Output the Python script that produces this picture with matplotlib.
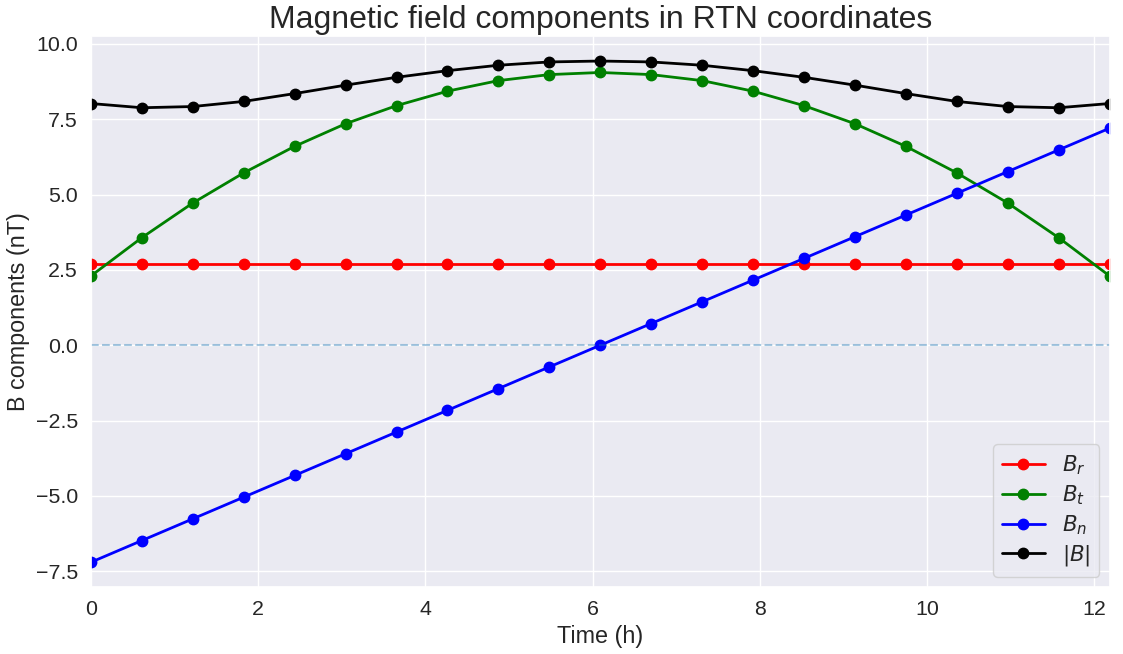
import matplotlib
matplotlib.use("Agg")
import matplotlib.pyplot as plt
import seaborn as sns

sns.set_theme(style="darkgrid", font_scale=1.4)
plt.rcParams['font.family'] = ['Liberation Sans', 'DejaVu Sans']

# Time (hours)
t = [0.0, 0.609, 1.218, 1.827, 2.436, 3.045, 3.654, 4.263, 4.872, 5.481, 6.09,
     6.699, 7.308, 7.917, 8.526, 9.135, 9.744, 10.353, 10.962, 11.571, 12.18]

B_r = [2.68] * 21
B_t = [2.30, 3.57, 4.72, 5.72, 6.60, 7.35, 7.95, 8.43, 8.78, 8.98, 9.05,
       8.98, 8.78, 8.43, 7.95, 7.35, 6.60, 5.72, 4.72, 3.57, 2.30]
B_n = [-7.20, -6.48, -5.76, -5.04, -4.32, -3.60, -2.88, -2.16, -1.44, -0.72, 0.0,
       0.72, 1.44, 2.16, 2.88, 3.60, 4.32, 5.04, 5.76, 6.48, 7.20]
B_mag = [8.02, 7.88, 7.92, 8.09, 8.35, 8.63, 8.89, 9.11, 9.29, 9.40, 9.43,
         9.40, 9.29, 9.11, 8.89, 8.63, 8.35, 8.09, 7.92, 7.88, 8.02]

fig, ax = plt.subplots(figsize=(11.23, 6.54), dpi=100)

ax.plot(t, B_r, 'o-', color='red', label='$B_r$', linewidth=2, markersize=7.5)
ax.plot(t, B_t, 'o-', color='green', label='$B_t$', linewidth=2, markersize=7.5)
ax.plot(t, B_n, 'o-', color='blue', label='$B_n$', linewidth=2, markersize=7.5)
ax.plot(t, B_mag, 'o-', color='black', label='$|B|$', linewidth=2, markersize=7.5)
ax.axhline(0, linestyle='--', color='tab:blue', alpha=0.4)

ax.set_xlim(t[0], t[-1])
ax.set_xlabel('Time (h)')
ax.set_ylabel('B components (nT)')
ax.set_title('Magnetic field components in RTN coordinates', fontsize=23, pad=6)
ax.legend(loc='lower right', fontsize=15.4, labelspacing=0.3)

fig.subplots_adjust(left=0.081, right=0.988, top=0.945, bottom=0.102)
fig.savefig('out.png', dpi=100)
